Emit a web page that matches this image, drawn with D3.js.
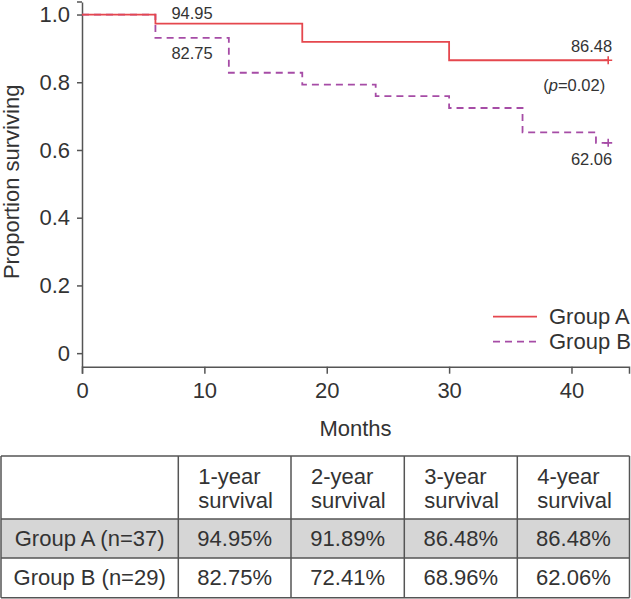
<!DOCTYPE html>
<html>
<head>
<meta charset="utf-8">
<script src="https://cdn.jsdelivr.net/npm/d3@7"></script>
<style>
  html, body { margin: 0; padding: 0; background: #fff; }
  svg { display: block; }
  text { font-family: "Liberation Sans", Arial, Helvetica, sans-serif; fill: #333; }
</style>
</head>
<body>
<svg id="chart" width="631" height="599"></svg>
<script>
// ---- Data ----
const groupATimes = [0, 6, 18, 30, 43];
const groupASurv  = [1.0, 0.973, 0.919, 0.865, 0.865];
const groupBTimes = [0, 6, 12, 18, 24, 30, 36, 42, 43];
const groupBSurv  = [1.0, 0.931, 0.828, 0.793, 0.759, 0.724, 0.652, 0.621, 0.621];
const seriesNames = ["Group A", "Group B"];
const xTicks = [0, 10, 20, 30, 40];
const yTicks = [0, 0.2, 0.4, 0.6, 0.8, 1.0];
const pointLabels = [
  { series: 0, at: 1, text: "94.95" },
  { series: 1, at: 1, text: "82.75" }
];
const endLabelA = "86.48";
const endLabelB = "62.06";
const pValue = "0.02";
const tableHeader = ["", "1-year|survival", "2-year|survival", "3-year|survival", "4-year|survival"];
const tableRows = [
  ["Group A (n=37)", "94.95%", "91.89%", "86.48%", "86.48%"],
  ["Group B (n=29)", "82.75%", "72.41%", "68.96%", "62.06%"]
];

const colors = ["#e5474e", "#a64ca6"];
const axisColor = "#555";
const bigFont = "22px";
const smallFont = "16.5px";

const svg = d3.select("#chart");

// ---- Scales ----
const x = d3.scaleLinear().domain([0, 44.7]).range([82, 629]);
const y = d3.scaleLinear().domain([-0.04, 1.037]).range([366.7, 2]);

// ---- Axes ----
const yAxis = d3.axisLeft(y).tickValues(yTicks)
  .tickFormat(d => d === 0 ? "0" : d3.format(".1f")(d))
  .tickSize(5).tickSizeOuter(0).tickPadding(7);
const gy = svg.append("g").attr("transform", `translate(${x(0)},0)`).call(yAxis);
gy.selectAll("path, line").attr("stroke", axisColor).attr("stroke-width", 1.5);
gy.selectAll("text").style("font-size", bigFont).attr("fill", "#333");
gy.append("line").attr("x1", 0).attr("x2", -5)
  .attr("y1", y.range()[1]).attr("y2", y.range()[1])
  .attr("stroke", axisColor).attr("stroke-width", 1.5);

const xAxis = d3.axisBottom(x).tickValues(xTicks).tickFormat(d3.format("d"))
  .tickSize(7).tickSizeOuter(7).tickPadding(9);
const gx = svg.append("g").attr("transform", `translate(0,${y.range()[0]})`).call(xAxis);
gx.selectAll("path, line").attr("stroke", axisColor).attr("stroke-width", 1.5);
gx.selectAll("text").style("font-size", bigFont).attr("fill", "#333");

// axis titles
svg.append("text")
  .attr("transform", `translate(11,${(y(0) + y(1)) / 2 - 2}) rotate(-90)`)
  .attr("text-anchor", "middle").attr("dominant-baseline", "central")
  .style("font-size", bigFont).text("Proportion surviving");
svg.append("text")
  .attr("x", (x.range()[0] + x.range()[1]) / 2).attr("y", 436)
  .attr("text-anchor", "middle").style("font-size", bigFont).text("Months");

// ---- Step curves ----
const series = [
  groupATimes.map((t, i) => [t, groupASurv[i]]),
  groupBTimes.map((t, i) => [t, groupBSurv[i]])
];
const line = d3.line().x(d => x(d[0])).y(d => y(d[1])).curve(d3.curveStepAfter);

[1, 0].forEach(si => {
  svg.append("path")
    .datum(series[si])
    .attr("d", line)
    .attr("fill", "none")
    .attr("stroke", colors[si])
    .attr("stroke-width", 1.8)
    .attr("stroke-dasharray", si === 1 ? "7,5" : null);
  // censor mark at end
  const last = series[si][series[si].length - 1];
  const cx = x(last[0]), cy = y(last[1]);
  svg.append("path")
    .attr("d", `M${cx - 4},${cy}H${cx + 4}M${cx},${cy - 4}V${cy + 4}`)
    .attr("stroke", colors[si]).attr("stroke-width", 1.6).attr("fill", "none");
});

// ---- Value labels ----
pointLabels.forEach(p => {
  const d = series[p.series][p.at];
  const dy = p.series === 0 ? -5 : 21;
  svg.append("text")
    .attr("x", x(d[0]) + 16).attr("y", y(d[1]) + dy)
    .style("font-size", smallFont).text(p.text);
});
{
  const a = series[0][series[0].length - 1];
  svg.append("text").attr("x", x(a[0]) + 4).attr("y", y(a[1]) - 8)
    .attr("text-anchor", "end").style("font-size", smallFont).text(endLabelA);
  const pt = svg.append("text").attr("x", x(a[0]) - 3).attr("y", y(a[1]) + 31)
    .attr("text-anchor", "end").style("font-size", smallFont);
  pt.append("tspan").text("(");
  pt.append("tspan").style("font-style", "italic").text("p");
  pt.append("tspan").text("=" + pValue + ")");
  const b = series[1][series[1].length - 1];
  svg.append("text").attr("x", x(b[0]) + 4).attr("y", y(b[1]) + 22)
    .attr("text-anchor", "end").style("font-size", smallFont).text(endLabelB);
}

// ---- Legend ----
const legend = svg.append("g").attr("transform", "translate(493,316.7)");
seriesNames.forEach((name, i) => {
  const g = legend.append("g").attr("transform", `translate(0,${i * 25})`);
  g.append("line").attr("x1", 0).attr("x2", 44).attr("y1", 0).attr("y2", 0)
    .attr("stroke", colors[i]).attr("stroke-width", 1.8)
    .attr("stroke-dasharray", i === 1 ? "7,5" : null);
  g.append("text").attr("x", 56).attr("y", 0).attr("dominant-baseline", "central")
    .style("font-size", bigFont).text(name);
});

// ---- Table ----
const colX = [1, 178.3, 291, 404.3, 517.3, 629.5];
const rowY = [456, 519, 558, 597.7];
const tbl = svg.append("g");
// row A background
tbl.append("rect").attr("x", colX[0]).attr("y", rowY[1])
  .attr("width", colX[5] - colX[0]).attr("height", rowY[2] - rowY[1])
  .attr("fill", "#d6d6d6");
// header
tableHeader.forEach((h, ci) => {
  if (!h) return;
  const parts = h.split("|");
  parts.forEach((p, li) => {
    tbl.append("text").attr("x", colX[ci] + 20).attr("y", 476.7 + li * 23.5)
      .attr("dominant-baseline", "central").style("font-size", bigFont).text(p);
  });
});
tableRows.forEach((row, ri) => {
  row.forEach((v, ci) => {
    tbl.append("text")
      .attr("x", (colX[ci] + colX[ci + 1]) / 2)
      .attr("y", (rowY[ri + 1] + rowY[ri + 2]) / 2)
      .attr("text-anchor", "middle").attr("dominant-baseline", "central")
      .style("font-size", bigFont).text(v);
  });
});
// grid lines
rowY.forEach(yy => tbl.append("line").attr("x1", colX[0]).attr("x2", colX[5])
  .attr("y1", yy).attr("y2", yy).attr("stroke", axisColor).attr("stroke-width", 1.5));
colX.forEach(xx => tbl.append("line").attr("x1", xx).attr("x2", xx)
  .attr("y1", rowY[0]).attr("y2", rowY[3]).attr("stroke", axisColor).attr("stroke-width", 1.5));
</script>
</body>
</html>
